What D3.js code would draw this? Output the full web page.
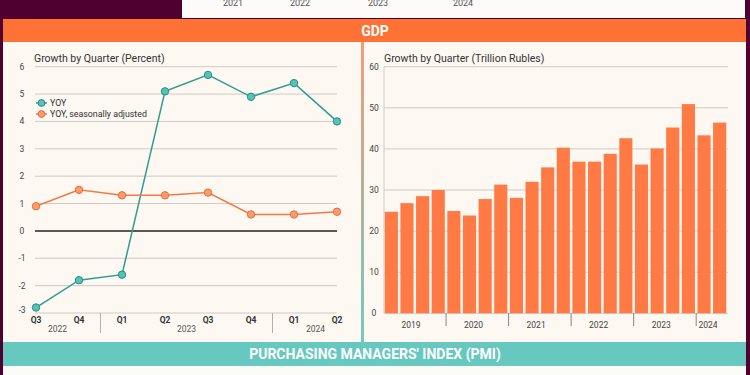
<!DOCTYPE html>
<html>
<head>
<meta charset="utf-8">
<script src="https://cdn.jsdelivr.net/npm/d3@7"></script>
<style>
  body { margin: 0; background: #4f0030; }
  svg { display: block; font-family: Roboto, "Noto Sans", sans-serif; }
</style>
</head>
<body>
<div id="chart"></div>
<script>
// top strip (ticks of the chart above, cut off)
var topYears = ["2021", "2022", "2023", "2024"];

// GDP growth, percent
var quarters = ["Q3", "Q4", "Q1", "Q2", "Q3", "Q4", "Q1", "Q2"];
var quarterYears = ["2022", "2022", "2023", "2023", "2023", "2023", "2024", "2024"];
var yoy = [-2.8, -1.8, -1.6, 5.1, 5.7, 4.9, 5.4, 4.0];
var yoySA = [0.9, 1.5, 1.3, 1.3, 1.4, 0.6, 0.6, 0.7];
var pctTicks = [-3, -2, -1, 0, 1, 2, 3, 4, 5, 6];

// GDP, trillion rubles, 2019 Q1 .. 2024 Q2
var gdpYears = ["2019", "2020", "2021", "2022", "2023", "2024"];
var gdpValues = [24.7, 26.8, 28.5, 30.0, 24.9, 23.8, 27.8, 31.3, 28.1, 32.0, 35.5, 40.3,
                 36.9, 36.9, 38.8, 42.6, 36.2, 40.1, 45.2, 50.9, 43.3, 46.4];
var rubTicks = [0, 10, 20, 30, 40, 50, 60];

var width = 750, height = 375;
var teal = "#2f9d91", orange = "#f27a48";

var svg = d3.select('#chart').append('svg')
  .attr('width', width).attr('height', height);

var defs = svg.append('defs');
var grad = defs.append('linearGradient').attr('id', 'divider')
  .attr('x1', 0).attr('y1', 0).attr('x2', 0).attr('y2', 1);
grad.append('stop').attr('offset', '0%').attr('stop-color', '#f39b78');
grad.append('stop').attr('offset', '100%').attr('stop-color', '#72c9c0');

// background blocks
svg.append('rect').attr('x', 0).attr('y', 0).attr('width', width).attr('height', height).attr('fill', '#4f0030');
svg.append('rect').attr('x', 182).attr('y', 0).attr('width', 563).attr('height', 18).attr('fill', '#fdfafa');
svg.append('rect').attr('x', 3).attr('y', 19).attr('width', 743).attr('height', 23).attr('fill', '#ff7236');
svg.append('rect').attr('x', 3).attr('y', 42).attr('width', 743).attr('height', 300).attr('fill', '#fdf8f2');
svg.append('rect').attr('x', 361).attr('y', 42).attr('width', 3).attr('height', 300).attr('fill', 'url(#divider)');
svg.append('rect').attr('x', 3).attr('y', 342).attr('width', 743).attr('height', 24).attr('fill', '#66c8bf');
svg.append('rect').attr('x', 3).attr('y', 366).attr('width', 743).attr('height', 9).attr('fill', '#fbfbf8');

var topX = d3.scaleOrdinal().domain(topYears).range([233, 300, 378, 463]);
svg.selectAll('.topyear').data(topYears).enter().append('text')
  .attr('x', function(d) { return topX(d); }).attr('y', 6)
  .attr('text-anchor', 'middle').attr('font-size', 9).attr('fill', '#555')
  .text(function(d) { return d; });

svg.append('text').attr('x', 375).attr('y', 36).attr('text-anchor', 'middle')
  .attr('font-size', 14).attr('font-weight', 'bold').attr('fill', '#fff').text('GDP');
svg.append('text').attr('x', 375).attr('y', 359).attr('text-anchor', 'middle')
  .attr('font-size', 14).attr('font-weight', 'bold').attr('fill', '#fff')
  .text("PURCHASING MANAGERS' INDEX (PMI)");

// ---------- left: growth in percent ----------
var left = svg.append('g');
var x1 = d3.scalePoint().domain(d3.range(quarters.length)).range([36, 337]);
var y1 = d3.scaleLinear().domain([-3, 6]).range([313, 66.7]);

left.append('text').attr('x', 34).attr('y', 62).attr('font-size', 10.5).attr('fill', '#333')
  .text('Growth by Quarter (Percent)');

left.selectAll('.grid').data(pctTicks).enter().append('line')
  .attr('x1', 35).attr('x2', 337)
  .attr('y1', function(d) { return y1(d); }).attr('y2', function(d) { return y1(d); })
  .attr('stroke', function(d) { return d === 0 ? '#222' : '#cfcac4'; })
  .attr('stroke-width', function(d) { return d === 0 ? 1.5 : 1; });

left.selectAll('.ytick').data(pctTicks).enter().append('text')
  .attr('x', 22).attr('y', function(d) { return y1(d) + (d === -3 ? 0 : 3); })
  .attr('text-anchor', 'middle').attr('font-size', 8.5).attr('fill', '#444')
  .text(function(d) { return d; });

left.selectAll('.qlab').data(quarters).enter().append('text')
  .attr('x', function(d, i) { return x1(i); }).attr('y', 322.5)
  .attr('text-anchor', 'middle').attr('font-size', 8.5).attr('font-weight', 'bold').attr('fill', '#333')
  .text(function(d) { return d; });

// year groups for the percent chart
var yGroups1 = d3.groups(d3.range(quarters.length), function(i) { return quarterYears[i]; });
left.selectAll('.ylab').data(yGroups1).enter().append('text')
  .attr('x', function(g) { return (x1(g[1][0]) + x1(g[1][g[1].length - 1])) / 2; })
  .attr('y', 331.5).attr('text-anchor', 'middle').attr('font-size', 8.5).attr('fill', '#555')
  .text(function(g) { return g[0]; });
left.selectAll('.ysep').data(yGroups1.slice(1)).enter().append('line')
  .attr('x1', function(g) { return (x1(g[1][0]) + x1(g[1][0] - 1)) / 2; })
  .attr('x2', function(g) { return (x1(g[1][0]) + x1(g[1][0] - 1)) / 2; })
  .attr('y1', 313).attr('y2', 333).attr('stroke', '#b5b0aa').attr('stroke-width', 1);

var line1 = d3.line().x(function(d, i) { return x1(i); }).y(function(d) { return y1(d); });
var series = [
  { name: 'YOY', values: yoy, color: teal, fill: '#55c4b8', stroke: '#2a8c81' },
  { name: 'YOY, seasonally adjusted', values: yoySA, color: orange, fill: '#f99c70', stroke: '#ea6c38' }
];
series.forEach(function(s) {
  left.append('path').datum(s.values).attr('d', line1)
    .attr('fill', 'none').attr('stroke', s.color).attr('stroke-width', 1.5);
  left.selectAll(null).data(s.values).enter().append('circle')
    .attr('cx', function(d, i) { return x1(i); }).attr('cy', function(d) { return y1(d); })
    .attr('r', 3.7).attr('fill', s.fill).attr('stroke', s.stroke).attr('stroke-width', 1);
});

var legend = left.selectAll('.legend').data(series).enter().append('g')
  .attr('transform', function(d, i) { return 'translate(0,' + (103 + i * 11) + ')'; });
legend.append('line').attr('x1', 36).attr('x2', 47).attr('stroke', function(d) { return d.color; }).attr('stroke-width', 1.5);
legend.append('circle').attr('cx', 41.5).attr('r', 3.4)
  .attr('fill', function(d) { return d.fill; }).attr('stroke', function(d) { return d.stroke; });
legend.append('text').attr('x', 50).attr('y', 3).attr('font-size', 8.8).attr('fill', '#333')
  .text(function(d) { return d.name; });

// ---------- right: GDP in trillion rubles ----------
var right = svg.append('g');
var x2 = d3.scaleBand().domain(d3.range(gdpValues.length)).range([384, 727]).paddingInner(0.16).paddingOuter(0.05);
var y2 = d3.scaleLinear().domain([0, 60]).range([313.3, 66.7]);

right.append('text').attr('x', 384).attr('y', 62).attr('font-size', 10.5).attr('fill', '#333')
  .text('Growth by Quarter (Trillion Rubles)');

right.selectAll('.grid').data(rubTicks).enter().append('line')
  .attr('x1', 384).attr('x2', 728)
  .attr('y1', function(d) { return y2(d); }).attr('y2', function(d) { return y2(d); })
  .attr('stroke', '#cfcac4');
right.append('line').attr('x1', 384).attr('x2', 384).attr('y1', y2(60)).attr('y2', y2(0)).attr('stroke', '#cfcac4');

right.selectAll('.ytick').data(rubTicks).enter().append('text')
  .attr('x', 374).attr('y', function(d) { return y2(d) + 3; })
  .attr('text-anchor', 'middle').attr('font-size', 8.5).attr('fill', '#444')
  .text(function(d) { return d; });

right.selectAll('.bar').data(gdpValues).enter().append('rect')
  .attr('x', function(d, i) { return x2(i); }).attr('width', x2.bandwidth())
  .attr('y', function(d) { return y2(d); }).attr('height', function(d) { return y2(0) - y2(d); })
  .attr('fill', '#ff7a45');

var step = x2.step();
right.selectAll('.ylab').data(gdpYears).enter().append('text')
  .attr('x', function(d, i) {
    var n = Math.min(4, gdpValues.length - i * 4);
    return x2(i * 4) + (n * step) / 2 - 5;
  })
  .attr('y', 327.5).attr('text-anchor', 'middle').attr('font-size', 8.5).attr('fill', '#444')
  .text(function(d) { return d; });
right.selectAll('.ysep').data(gdpYears.slice(1)).enter().append('line')
  .attr('x1', function(d, i) { return x2((i + 1) * 4) - step * 0.08; })
  .attr('x2', function(d, i) { return x2((i + 1) * 4) - step * 0.08; })
  .attr('y1', 313).attr('y2', 326).attr('stroke', '#8a8580');
</script>
</body>
</html>
